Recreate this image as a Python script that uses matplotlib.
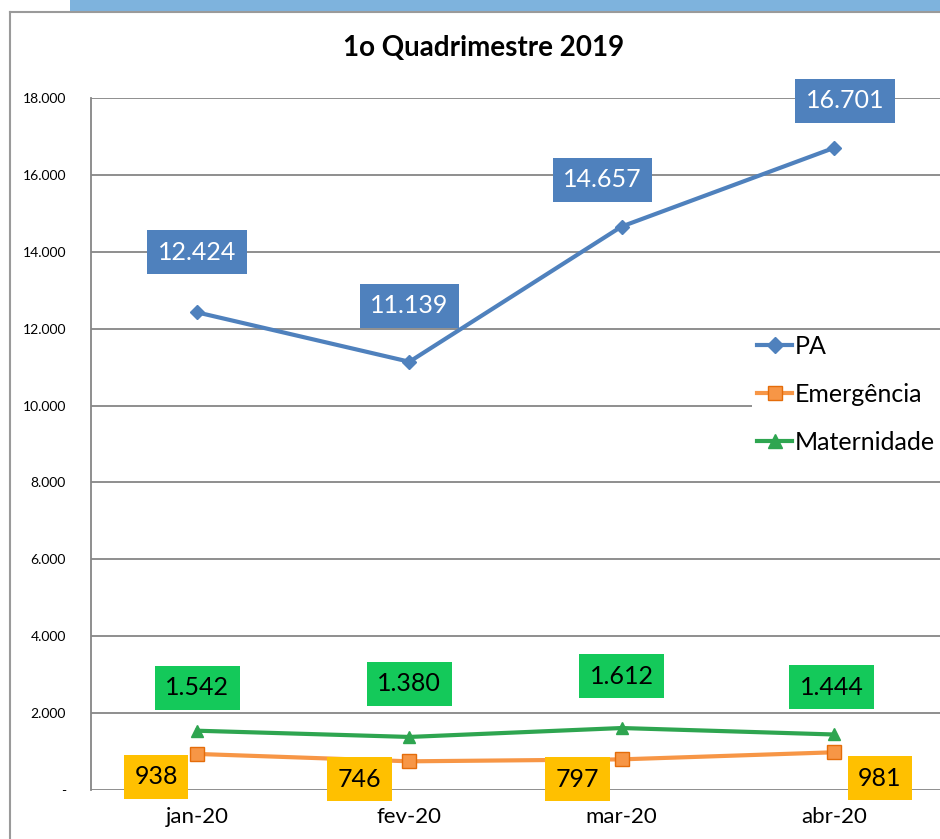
import matplotlib.pyplot as plt
from matplotlib.patches import Rectangle
from matplotlib.lines import Line2D

months = ['jan-20', 'fev-20', 'mar-20', 'abr-20']
pa = [12424, 11139, 14657, 16701]
emergencia = [938, 746, 797, 981]
maternidade = [1542, 1380, 1612, 1444]
yticks = [0, 2000, 4000, 6000, 8000, 10000, 12000, 14000, 16000, 18000]

c_pa = '#4F81BD'
c_em = '#F79646'
c_mat = '#2EA550'

plt.rcParams['font.family'] = ['Lato', 'DejaVu Sans']

fig = plt.figure(figsize=(9.4, 8.39), dpi=100)
ax = fig.add_axes([91 / 940, 49 / 839, 849 / 940, 692 / 839])

x = list(range(len(months)))
ax.plot(x, pa, color=c_pa, lw=3, marker='D', ms=7, mfc=c_pa, mec=c_pa, zorder=3)
ax.plot(x, emergencia, color=c_em, lw=3, marker='s', ms=10, mfc=c_em, mec='#E46C0A', zorder=3)
ax.plot(x, maternidade, color=c_mat, lw=3, marker='^', ms=9, mfc=c_mat, mec=c_mat, zorder=3)

ax.set_xlim(-0.5, 3.5)
ax.set_ylim(0, 18000)
ax.set_yticks(yticks)
ax.set_yticklabels(['-' if v == 0 else f'{v:,}'.replace(',', '.') for v in yticks],
                   fontsize=10)
ax.set_xticks(x)
ax.set_xticklabels(months, fontsize=16)
ax.tick_params(axis='y', length=0, pad=18)
ax.tick_params(axis='x', length=0, pad=12)
ax.grid(axis='y', color='#868686', lw=1.3)
ax.set_axisbelow(True)
for s in ['top', 'right', 'bottom']:
    ax.spines[s].set_visible(False)
ax.spines['left'].set_color('#868686')
ax.spines['left'].set_linewidth(1.3)

def label(i, v, dx, dy, fc, tc, text):
    ax.annotate(text, (i, v), xytext=(dx, dy), textcoords='offset pixels',
                ha='center', va='center', fontsize=18, color=tc, zorder=5,
                bbox=dict(boxstyle='square,pad=0.42', fc=fc, ec='none'))

fmt = lambda v: f'{v:,}'.replace(',', '.')
pa_off = [(0, 60), (0, 56), (-19, 47), (11, 47)]
mat_off = [(0, 43), (0, 53), (0, 52), (-2, 47)]
em_off = [(-41, -23), (-50, -18), (-44, -20), (46, -26)]
for i in x:
    label(i, pa[i], *pa_off[i], c_pa, 'white', fmt(pa[i]))
    label(i, maternidade[i], *mat_off[i], '#14C95A', 'black', fmt(maternidade[i]))
    label(i, emergencia[i], *em_off[i], '#FFC000', 'black', fmt(emergencia[i]))

fig.text(484 / 940, 1 - 48 / 839, '1o Quadrimestre 2019', ha='center', va='center',
         fontsize=20, fontweight='bold')

handles = [Line2D([], [], color=c_pa, lw=3, marker='D', ms=8),
           Line2D([], [], color=c_em, lw=3, marker='s', ms=10, mec='#E46C0A'),
           Line2D([], [], color=c_mat, lw=3, marker='^', ms=10)]
leg = fig.legend(handles, ['PA', 'Emergência', 'Maternidade'],
                 loc='upper left', bbox_to_anchor=(752 / 940, 1 - 330 / 839),
                 frameon=True, facecolor='white', edgecolor='none', fancybox=False,
                 fontsize=18, handlelength=1.4, handletextpad=0.1,
                 labelspacing=1.0, borderpad=0.2, borderaxespad=0)
leg.get_frame().set_alpha(1)

# frame around slide area
fig.patches.append(Rectangle((70 / 940, 1 - 11 / 839), 870 / 940, 11 / 839,
                             transform=fig.transFigure, fc='#7EB3DD', ec='none'))
fig.lines.append(Line2D([10 / 940, 10 / 940], [0, 1 - 12 / 839],
                        transform=fig.transFigure, color='#9A9A9A', lw=1.5))
fig.lines.append(Line2D([10 / 940, 1], [1 - 12 / 839, 1 - 12 / 839],
                        transform=fig.transFigure, color='#9A9A9A', lw=1.5))

fig.savefig('out.png', dpi=100)
